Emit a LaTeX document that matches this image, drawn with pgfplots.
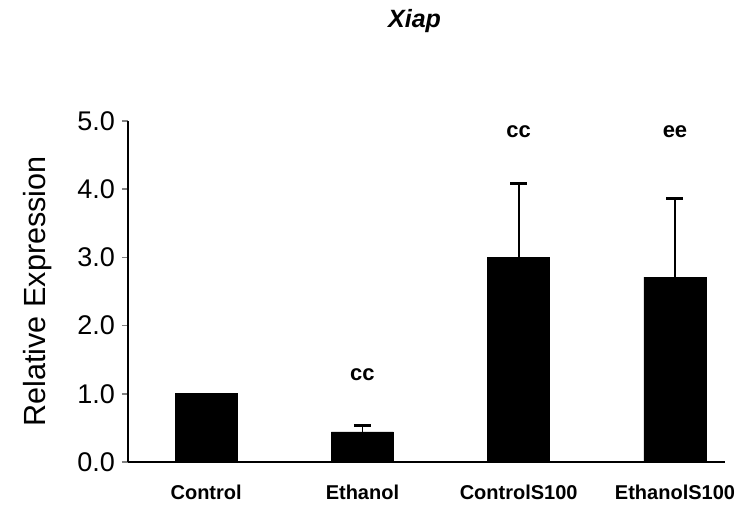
\documentclass[border=0pt]{standalone}
\usepackage{fontspec}
\setmainfont{Liberation Sans}
\usepackage{pgfplots}
\pgfplotsset{compat=1.18}
\begin{document}
\begin{tikzpicture}
\useasboundingbox (-64pt,-30.5pt) rectangle (311pt,231pt);
\begin{axis}[
  at={(0pt,0pt)}, anchor=south west,
  scale only axis,
  width=298.5pt, height=170.5pt,
  xmin=-0.5, xmax=3.32,
  ymin=0, ymax=5,
  axis x line*=bottom, axis y line*=left,
  axis line style={line width=0.8pt, -},
  xtick={0,1,2,3},
  xticklabels={Control,Ethanol,ControlS100,EthanolS100},
  xtick style={draw=none},
  xticklabel style={font=\fontsize{10}{12}\selectfont\bfseries, yshift=-5pt},
  ytick={0,1,2,3,4,5},
  tick align=outside,
  major tick length=3pt,
  ytick style={line width=0.8pt},
  yticklabel style={font=\fontsize{13.5}{15}\selectfont, /pgf/number format/fixed, /pgf/number format/fixed zerofill, /pgf/number format/precision=1, /pgf/number format/assume math mode=true},
  ylabel={Relative Expression},
  ylabel style={font=\fontsize{15.3}{17}\selectfont, yshift=6pt},
  title={\textbf{\textit{Xiap}}},
  title style={font=\fontsize{12.5}{14}\selectfont, at={(rel axis cs:0.48,1)}, anchor=center, yshift=44pt},
  clip=false,
]
\addplot[ybar, bar width=31pt, bar shift=0pt, fill=black, draw=black]
  table[x=x, y=y] {
x y
0 1.00
};
\addplot[ybar, bar width=31pt, bar shift=0pt, fill=black, draw=black,
  error bars/.cd, y dir=plus, y explicit,
  error bar style={line width=0.9pt, black},
  error mark options={rotate=90, mark size=4.25pt, line width=1.5pt, black}]
  table[x=x, y=y, y error=e] {
x y e
1 0.44 0.09
2 3.00 1.08
3 2.71 1.16
};
\node[font=\fontsize{11}{12}\selectfont\bfseries] at (axis cs:1,1.28) {cc};
\node[font=\fontsize{11}{12}\selectfont\bfseries] at (axis cs:2,4.84) {cc};
\node[font=\fontsize{11}{12}\selectfont\bfseries] at (axis cs:3,4.84) {ee};
\end{axis}
\end{tikzpicture}
\end{document}
